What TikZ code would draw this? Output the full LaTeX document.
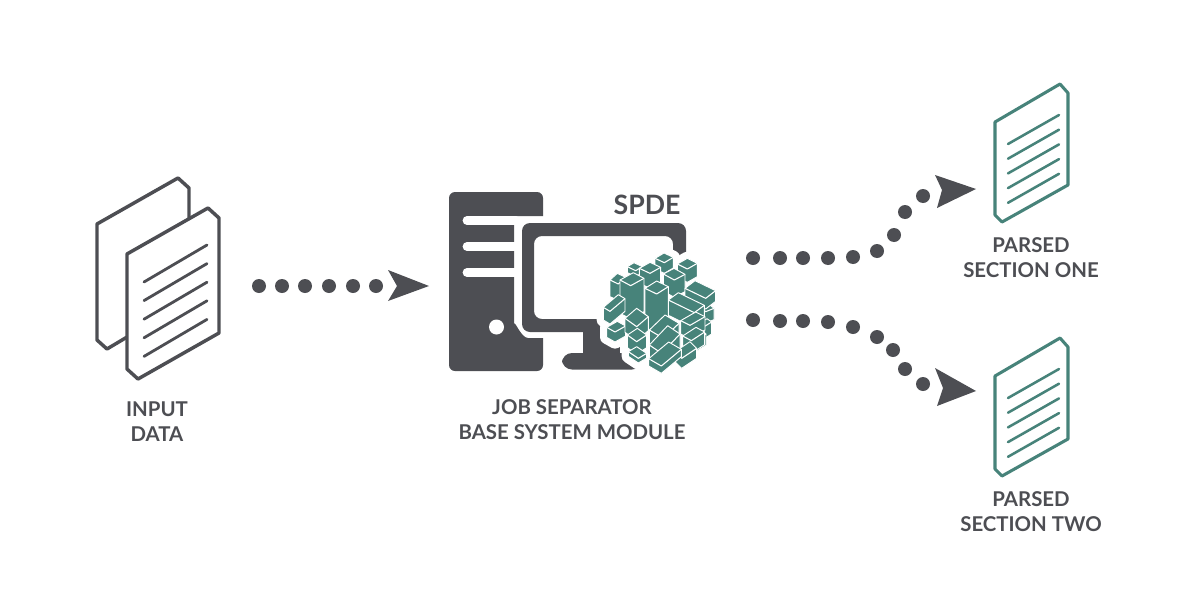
\documentclass[tikz,border=0pt]{standalone}
\usepackage{fontspec}
\setmainfont{Lato}
\definecolor{ink}{HTML}{4D4E53}
\definecolor{teal}{HTML}{47837A}
\newcommand{\blkface}[7]{%
  % #1,#2 left corner of the top; #3,#4 vector u; #5,#6 vector v; #7 height
  \fill[blockfill] (#1,#2) -- ++(#3,#4) -- ++(#5,#6) -- ++(0,#7) -- ++(-#3,-#4) -- ++(-#5,-#6) -- ++(0,-#7) -- cycle;
  \draw[blockedge] (#1,#2) -- ++(#3,#4) -- ++(#5,#6) -- ++(0,#7) -- ++(-#3,-#4) -- ++(-#5,-#6) -- cycle;
  \draw[blockline] (#1,#2) -- ++(#5,#6) -- ++(#3,#4);
}
\newcommand{\blkhalo}[7]{%
  \draw[blockhalo] (#1,#2) -- ++(#3,#4) -- ++(#5,#6) -- ++(0,#7) -- ++(-#3,-#4) -- ++(-#5,-#6) -- cycle;
}
\newcommand{\clusterlist}{%
  \blk{195}{25}{27}{-16}{28}{13}{32}
  \blk{262}{42}{30}{-17}{30}{15}{40}
  \blk{112}{50}{20}{-12}{25}{12}{18}
  \blk{60}{90}{22}{-20}{25}{12}{50}
  \blk{148}{55}{32}{-18}{32}{15}{45}
  \blk{220}{72}{32}{-17}{33}{18}{52}
  \blk{335}{175}{25}{-10}{12}{10}{34}
  \blk{325}{222}{26}{-16}{14}{10}{36}
  \blk{300}{262}{32}{-20}{16}{10}{34}
  \blk{285}{115}{30}{-23}{62}{30}{32}
  \blk{90}{90}{40}{-22}{32}{17}{100}
  \blk{40}{172}{45}{-38}{20}{12}{38}
  \blk{235}{150}{30}{-22}{78}{38}{46}
  \blk{165}{115}{35}{-22}{35}{17}{125}
  \blk{50}{232}{32}{-18}{25}{14}{30}
  \blk{272}{212}{45}{-26}{28}{14}{40}
  \blk{278}{258}{40}{-26}{26}{14}{38}
  \blk{105}{205}{35}{-30}{35}{25}{42}
  \blk{112}{255}{30}{-20}{28}{20}{38}
  \blk{115}{305}{25}{-15}{30}{20}{14}
  \blk{255}{305}{45}{-30}{20}{20}{30}
  \blk{178}{240}{47}{-45}{42}{25}{44}
  \blk{178}{285}{55}{-58}{37}{25}{44}
  \blk{176}{326}{60}{-50}{38}{22}{22}
}
\tikzset{
  dark/.style={fill=ink,draw=none},
  paperdark/.style={draw=ink,line width=2.6pt,line join=round,fill=white},
  rulingdark/.style={draw=ink,line width=2.1pt,line cap=round},
  paperteal/.style={draw=teal,line width=2.3pt,line join=round,fill=white},
  rulingteal/.style={draw=teal,line width=1.9pt,line cap=round},
  flowdot/.style={circle,fill=ink,draw=none,minimum size=10.5pt,inner sep=0pt},
  caption/.style={text=ink,align=center,font=\fontsize{15.3}{18.8}\selectfont\bfseries,inner sep=0pt},
  blockfill/.style={fill=teal},
  blockedge/.style={draw=white,line width=0.7pt,line join=round},
  blockline/.style={draw=white,line width=0.8pt,line join=round},
  blockhalo/.style={draw=white,fill=white,line width=10pt,line join=round},
}
\begin{document}
\begin{tikzpicture}[x=0.75pt,y=-0.75pt]
\useasboundingbox (0,0) rectangle (1200,600);
% input documents
\draw[paperdark] (97,224) -- (178,178) -- (189,188) -- (189,300) -- (107,349) -- (97,340) -- cycle;
\draw[paperdark] (127,254) -- (208,208) -- (219,218) -- (219,333) -- (138,379) -- (127,369) -- cycle;
\foreach \d in {0,18.6,37.2,55.8,74.4}
  \draw[rulingdark] (144,282+\d) -- (207,245+\d);
% tower
\fill[dark] (455,192) -- (537,192) to[out=0,in=90] (543,198) -- (543,216) -- (514,216) -- (514,325)
  to[out=90,in=180] (528,338) -- (543,338) -- (543,365) to[out=-90,in=0] (537,371) -- (455,371)
  to[out=180,in=-90] (449,365) -- (449,198) to[out=90,in=180] (455,192) -- cycle;
\foreach \y in {220.5,246.5,272.5}
  \draw[white,line width=6.6pt,line cap=round] (467,\y) -- (516,\y);
\fill[white] (496.5,327) circle (7.5);
% monitor
\fill[dark,even odd rule,rounded corners=6] (522,223) rectangle (686,332) (534,236) rectangle (673,319);
\fill[dark] (583,331) rectangle (620,355);
\fill[dark,rounded corners=7.5] (562,353) rectangle (642,369.5);
% cluster
\begin{scope}[shift={(590,250)},x=0.25pt,y=-0.25pt]
  \let\blk\blkhalo
  \clusterlist
  \let\blk\blkface
  \clusterlist
\end{scope}
% output documents
\foreach \off in {0,254}{
  \begin{scope}[yshift=-0.75pt*\off]
    \draw[paperteal] (995,122) -- (1060,84) -- (1068,93) -- (1068,185) -- (1002,222) -- (995,215) -- cycle;
    \foreach \d in {0,14.7,29.4,44.1,58.8}
      \draw[rulingteal] (1008,144+\d) -- (1059,115+\d);
  \end{scope}
}
% input flow
\foreach \n/\x in {a/259,b/282,c/305,d/329,e/353,f/376}
  \node[flowdot] (in\n) at (\x,286) {};
\fill[dark] (388,270) -- (429,286) -- (388,301) -- (397,286) -- cycle;
% upper flow
\foreach \n/\x/\y in {a/753/258,b/780/258,c/803/258,d/828/258,e/853/257,f/877/251,g/894/235,h/905/212,i/923/196}
  \node[flowdot] (up\n) at (\x,\y) {};
\fill[dark] (935,175) -- (976,189) -- (937,208) -- (942,190) -- cycle;
% lower flow
\foreach \n/\x/\y in {a/753/320,b/780/321,c/803/321,d/828/322,e/853/327,f/877/337,g/893/350,h/905/369,i/923/384}
  \node[flowdot] (lo\n) at (\x,\y) {};
\fill[dark] (935,368) -- (976,391) -- (937,406) -- (943,388) -- cycle;
% labels
\node[caption] (spde) at (647,205) {\fontsize{20}{24}\selectfont SPDE};
\node[caption] (input) at (157,422) {INPUT\\DATA};
\node[caption] (job) at (572,419.5) {JOB SEPARATOR\\BASE SYSTEM MODULE};
\node[caption] (one) at (1031,257.5) {PARSED\\SECTION ONE};
\node[caption] (two) at (1031,511.5) {PARSED\\SECTION TWO};
\end{tikzpicture}
\end{document}
